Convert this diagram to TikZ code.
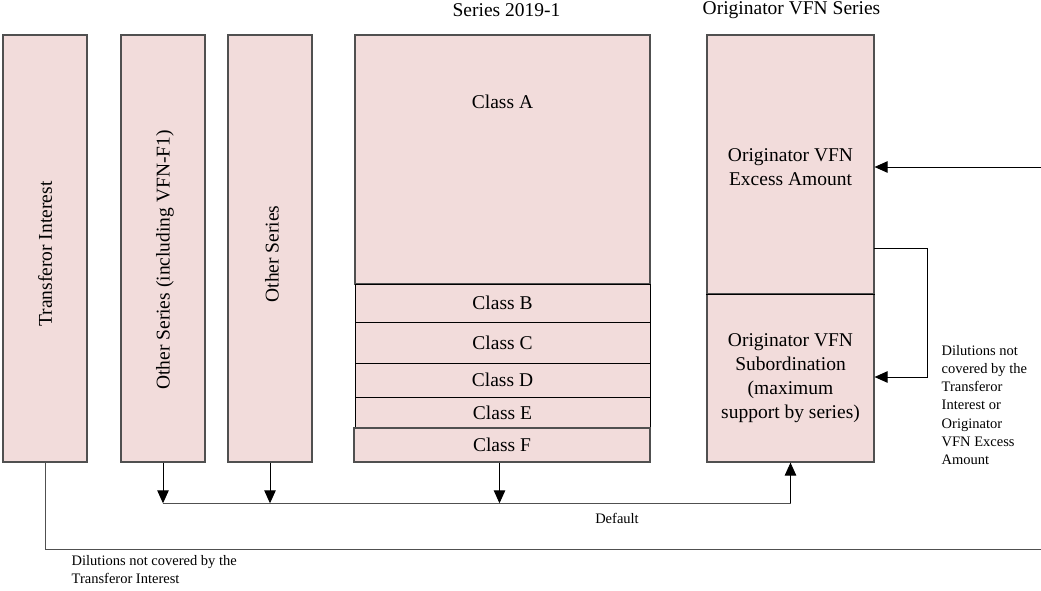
\documentclass[tikz,border=0pt]{standalone}
\usepackage{fontspec}
\setmainfont{Liberation Serif}
\usetikzlibrary{arrows.meta,calc}
\definecolor{boxfill}{HTML}{F2DCDB}
\definecolor{boxline}{HTML}{505050}
\tikzset{
  box/.style={draw=boxline, line width=1.2pt, fill=boxfill, inner sep=0pt, anchor=center},
  classbox/.style={box, draw=black, line width=1pt},
  big/.style={font=\fontsize{19.5}{24}\selectfont, align=center, inner sep=0pt},
  small/.style={font=\fontsize{14.5}{18.2}\selectfont, align=left, inner sep=0pt},
  arr/.style={-{Triangle[length=13pt,width=11.5pt]}, line width=1pt, black},
  conn/.style={line width=1pt, boxline},
}
\begin{document}
\begin{tikzpicture}[x=1pt,y=-1pt]
\useasboundingbox (0,0) rectangle (1041,591);
% columns
\node[box, minimum width=84pt, minimum height=427pt] (tr) at (45,248.5) {};
\node[box, minimum width=84pt, minimum height=427pt] (os1) at (163,248.5) {};
\node[box, minimum width=84pt, minimum height=427pt] (os2) at (270,248.5) {};
\node[big, rotate=90] (trt) at (45,254) {Transferor Interest};
\node[big, rotate=90] (os1t) at (165,260) {Other Series (including VFN-F1)};
\node[big, rotate=90] (os2t) at (272,254) {Other Series};
% Series 2019-1
\node[big, anchor=base] (st) at (506.5,17) {Series 2019-1};
\node[box, minimum width=295pt, minimum height=249pt] (ca) at (502.5,159.5) {};
\node[big] (cat) at (502.5,102) {Class A};
\node[classbox, minimum width=295pt, minimum height=38pt] (cb) at (502.5,303) {};
\node[big] at (cb.center) {Class B};
\node[classbox, minimum width=295pt, minimum height=41pt] (cc) at (502.5,342.5) {};
\node[big] at (cc.center) {Class C};
\node[classbox, minimum width=295pt, minimum height=34pt] (cd) at (502.5,380) {};
\node[big] at (cd.center) {Class D};
\node[classbox, minimum width=295pt, minimum height=31pt] (ce) at (502.5,412.5) {};
\node[big] at (ce.center) {Class E};
\node[box, minimum width=296pt, minimum height=34pt] (cf) at (502,445) {};
\node[big] at (cf.center) {Class F};
% Originator VFN Series
\node[big, anchor=base] (vt) at (791.5,14.5) {Originator VFN Series};
\node[box, minimum width=167pt, minimum height=259pt] (va) at (790.5,164.5) {};
\node[big] at (790.5,167) {Originator VFN\\Excess Amount};
\node[box, minimum width=167pt, minimum height=168pt] (vs) at (790.5,378) {};
\draw[black, line width=1.2pt] (va.south west) -- (va.south east);
\node[big] at (vs.center) {Originator VFN\\Subordination\\(maximum\\support by series)};
% right incoming arrow
\coordinate (rin) at (1041,167);
\draw[arr] (rin) -- (rin -| va.east);
% loop from excess to subordination
\coordinate (lp1) at (874,248);
\coordinate (lp2) at (927.5,248);
\draw[arr] (lp1) -- (lp2) |- (vs.east |- 0,377);
\node[small, anchor=north west] (dl1) at (941.5,345) {Dilutions not\\covered by the\\Transferor\\Interest or\\Originator\\VFN Excess\\Amount};
% default bus
\coordinate (bus) at (0,503.3);
\draw[conn] (os1.south |- bus) -- (vs.south |- bus);
\draw[arr] (os1.south) -- (os1.south |- bus);
\draw[arr] (os2.south) -- (os2.south |- bus);
\draw[arr] (cf.south -| 499.5,0) -- (499.5,503.3);
\draw[arr] (vs.south |- bus) -- (vs.south);
\node[small, anchor=base] (def) at (617,523.5) {Default};
% bottom line
\coordinate (bend) at (1041,549.3);
\draw[line width=1pt, boxline] (tr.south) |- (bend);
\node[small, anchor=north west] (dl2) at (71.5,555) {Dilutions not covered by the\\Transferor Interest};
\end{tikzpicture}
\end{document}
